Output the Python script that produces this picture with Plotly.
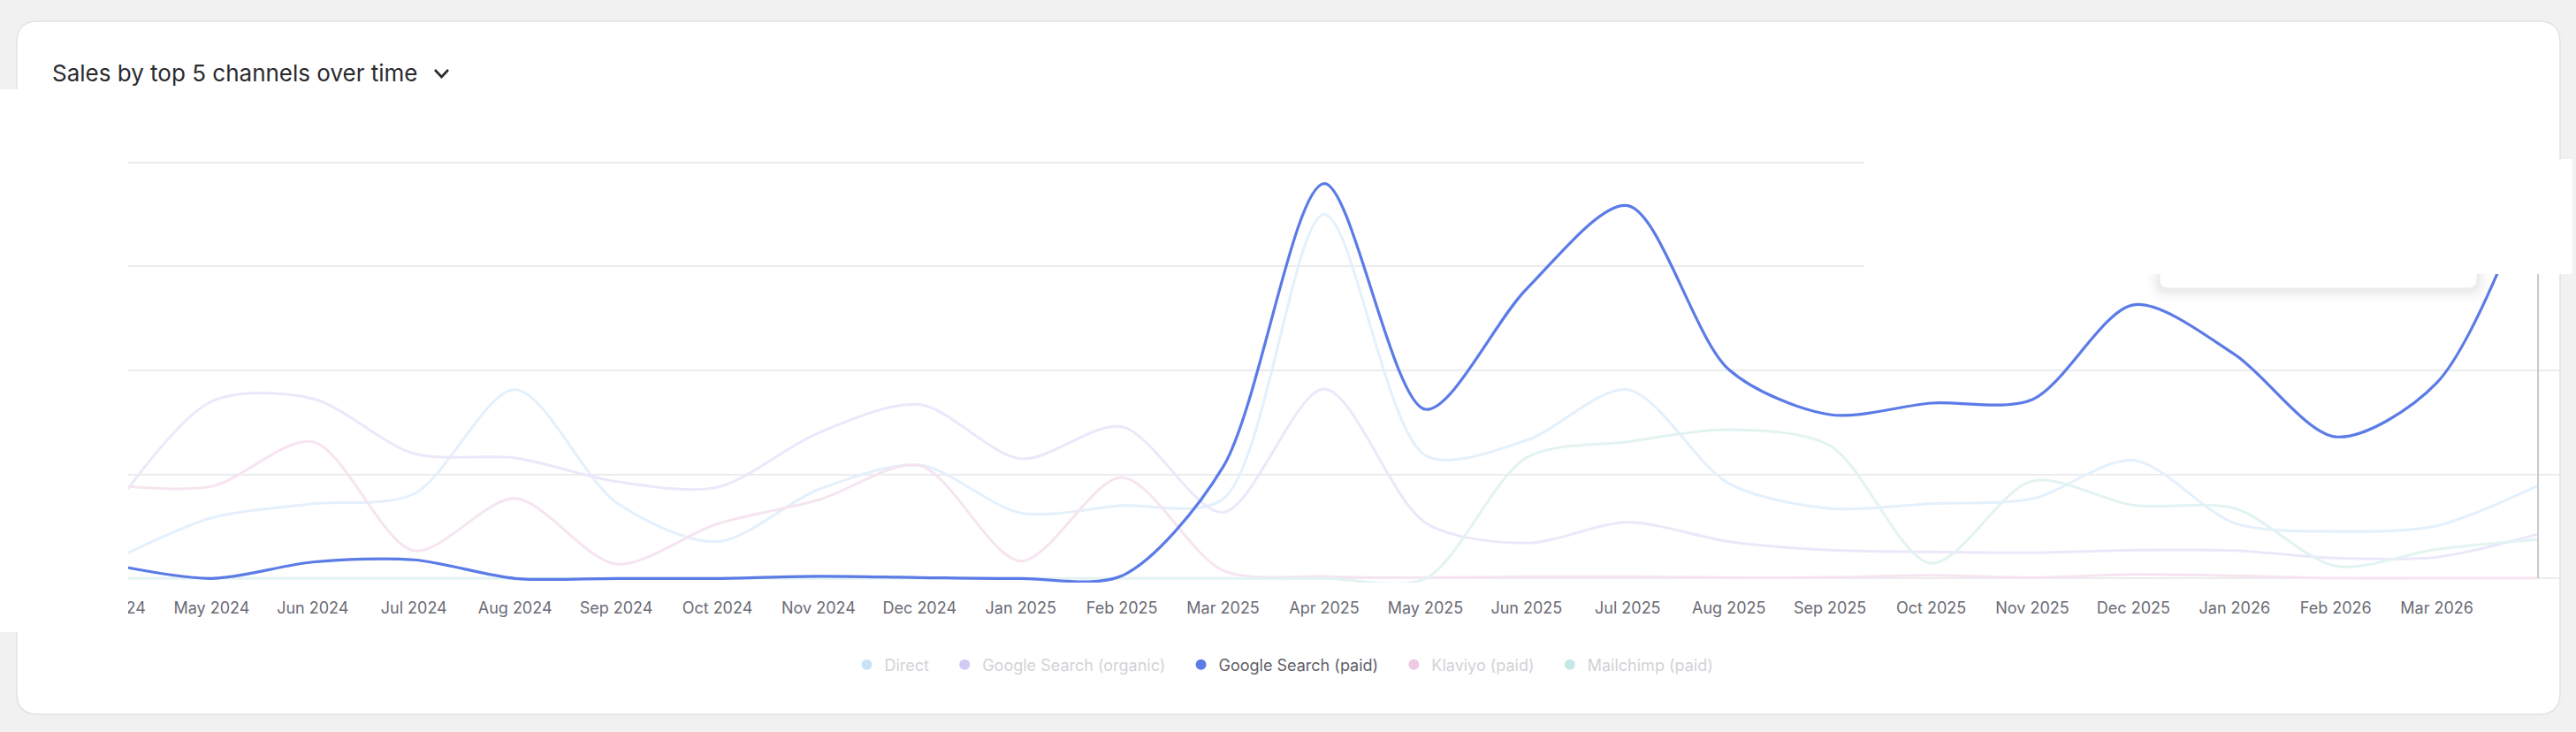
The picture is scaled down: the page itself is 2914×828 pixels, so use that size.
import plotly.graph_objects as go

# ---------------- data ----------------
months = ["Apr 2024", "May 2024", "Jun 2024", "Jul 2024", "Aug 2024", "Sep 2024",
          "Oct 2024", "Nov 2024", "Dec 2024", "Jan 2025", "Feb 2025", "Mar 2025",
          "Apr 2025", "May 2025", "Jun 2025", "Jul 2025", "Aug 2025", "Sep 2025",
          "Oct 2025", "Nov 2025", "Dec 2025", "Jan 2026", "Feb 2026", "Mar 2026",
          "Apr 2026"]
tick_labels = months[:-1]

direct = [808, 2910, 3587, 4059, 9076, 3659, 1766, 4272, 5446, 3149, 3502, 3817,
          17496, 5914, 6638, 9076, 4561, 3361, 3595, 3830, 5680, 2659, 2255, 2532, 4468]
organic = [3149, 8510, 8638, 6000, 5787, 4659, 4383, 7000, 8361, 5753, 7289, 3178,
           9106, 2681, 1702, 2698, 1766, 1362, 1277, 1234, 1362, 1340, 979, 1021, 2128]
paid = [681, 0, 787, 894, 0, 0, 0, 106, 43, 0, 128, 5361,
        18977, 8127, 13914, 17914, 10042, 7872, 8425, 8595, 13148, 10765, 6808, 9404, 19530]
klaviyo = [4510, 4425, 6570, 1336, 3842, 689, 2625, 3770, 5421, 834, 4851, 383,
           98, 40, 85, 85, 40, 50, 150, 40, 190, 130, 20, 20, 20]
mailchimp = [0, 0, 0, 0, 0, 0, 0, 0, 0, 0, 0, 0,
             0, 0, 5808, 6570, 7148, 6383, 723, 4681, 3515, 3370, 596, 1404, 1872]

series_names = ["Direct", "Google Search (organic)", "Google Search (paid)",
                "Klaviyo (paid)", "Mailchimp (paid)"]
series_values = [direct, organic, paid, klaviyo, mailchimp]
line_colors = ["#e4f0fb", "#ebe8fa", "#5b7be6", "#f6e5f0", "#e2f3f2"]
dot_colors = ["#c8e3f8", "#d4c9f5", "#5b7be6", "#efc8e3", "#c6e9e8"]
label_colors = ["#d2d2d6", "#d2d2d6", "#5f5f69", "#d2d2d6", "#d2d2d6"]

# ---------------- geometry ----------------
W, H = 2914, 828
ML, MR, MT, MB = 100, 18, 160, 169
PW, PH = W - ML - MR, H - MT - MB


def px(x):
    return (x - ML) / PW


def py(y):
    return (H - MB - y) / PH


def rounded(x0, y0, x1, y1, r):
    pts = [
        ("M", [(x0 + r, y0)]), ("L", [(x1 - r, y0)]), ("Q", [(x1, y0), (x1, y0 + r)]),
        ("L", [(x1, y1 - r)]), ("Q", [(x1, y1), (x1 - r, y1)]),
        ("L", [(x0 + r, y1)]), ("Q", [(x0, y1), (x0, y1 - r)]),
        ("L", [(x0, y0 + r)]), ("Q", [(x0, y0), (x0 + r, y0)]),
    ]
    s = ""
    for cmd, ps in pts:
        s += cmd + " " + " ".join(f"{px(a):.6f},{py(b):.6f}" for a, b in ps) + " "
    return s + "Z"


fig = go.Figure()

# lines (faded first, active on top)
order = [0, 1, 3, 4, 2]
for i in order:
    fig.add_trace(go.Scatter(
        x=months, y=series_values[i], mode="lines",
        line=dict(color=line_colors[i], width=3 if i != 2 else 3.2, shape="spline", smoothing=0.85),
        showlegend=False, hoverinfo="skip"))

# legend entries (dots)
pad = "\u00a0\u00a0\u00a0"
for i, name in enumerate(series_names):
    trail = pad if i < len(series_names) - 1 else ""
    fig.add_trace(go.Scatter(
        x=[None], y=[None], mode="markers",
        marker=dict(color=dot_colors[i], size=12, symbol="circle"),
        name=f'<span style="color:{label_colors[i]}">{name}</span>{trail}',
        showlegend=True, hoverinfo="skip"))

shapes = []
# card
shapes.append(dict(type="path", xref="paper", yref="paper", layer="below",
                   path=rounded(19, 24, 2896, 808, 24),
                   fillcolor="#ffffff", line=dict(color="#e2e2e4", width=1.5)))
# hover line
shapes.append(dict(type="line", xref="x", yref="paper", layer="above",
                   x0=months[-1], x1=months[-1], y0=py(654), y1=py(300),
                   line=dict(color="#c9c9cd", width=2)))
# tooltip shadow + box
for k, a in [(14, 0.012), (10, 0.015), (6, 0.02), (3, 0.025)]:
    shapes.append(dict(type="path", xref="paper", yref="paper", layer="above",
                       path=rounded(2443 - k, 250, 2802 + k, 326 + k + 2, 10 + k),
                       fillcolor=f"rgba(0,0,0,{a})", line=dict(width=0)))
shapes.append(dict(type="path", xref="paper", yref="paper", layer="above",
                   path=rounded(2443, 250, 2802, 326, 10),
                   fillcolor="#ffffff", line=dict(color="#ececee", width=1)))
# white overlays
shapes.append(dict(type="rect", xref="paper", yref="paper", layer="above",
                   x0=px(0), x1=px(145), y0=py(715), y1=py(101),
                   fillcolor="#ffffff", line=dict(width=0)))
shapes.append(dict(type="rect", xref="paper", yref="paper", layer="above",
                   x0=px(2109), x1=px(2910), y0=py(310), y1=py(180),
                   fillcolor="#ffffff", line=dict(width=0)))
# chevron
shapes.append(dict(type="path", xref="paper", yref="paper", layer="above",
                   path=f"M {px(492):.6f},{py(79):.6f} L {px(499.5):.6f},{py(87):.6f} L {px(507):.6f},{py(79):.6f}",
                   line=dict(color="#2a2a2e", width=2.6)))

fig.update_layout(
    width=W, height=H,
    margin=dict(l=ML, r=MR, t=MT, b=MB, pad=0),
    paper_bgcolor="#f1f1f1",
    plot_bgcolor="rgba(0,0,0,0)",
    font=dict(family="Inter, Roboto, sans-serif", size=18, color="#6b6b75"),
    title=dict(text="Sales by top 5 channels over time", xref="container", yref="container",
               x=59 / W, xanchor="left", y=1 - 83 / H, yanchor="middle",
               font=dict(family="Inter, sans-serif", size=26, color="#2a2a2e")),
    showlegend=True,
    legend=dict(orientation="h", x=px(1452), xanchor="center", y=py(752), yanchor="middle",
                font=dict(family="Inter, sans-serif", size=18, color="#5f5f69"),
                bgcolor="rgba(0,0,0,0)", itemclick=False, itemdoubleclick=False),
    shapes=shapes,
    hovermode=False,
)
fig.update_xaxes(type="category", range=[-0.218, 24.218], showgrid=False, zeroline=False,
                 showline=False, ticks="", tickmode="array", tickvals=tick_labels,
                 ticktext=tick_labels, tickfont=dict(family="Inter, sans-serif", size=18, color="#6b6b75"),
                 ticklabelstandoff=16)
fig.update_yaxes(range=[-200, 21000], tickvals=[0, 5000, 10000, 15000, 20000],
                 showgrid=True, gridcolor="#ececef", gridwidth=2,
                 zeroline=False, showline=False, showticklabels=False, ticks="")

fig.write_html("out.html")
